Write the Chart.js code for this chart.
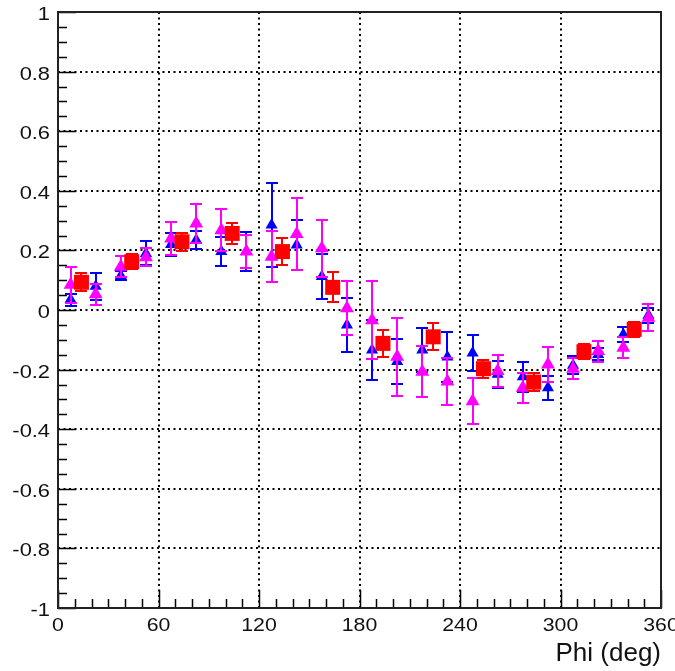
<!DOCTYPE html>
<html><head><meta charset="utf-8">
<script src="https://cdn.jsdelivr.net/npm/chart.js@4"></script>
<style>html,body{margin:0;padding:0;background:#fff}</style>
</head><body>
<canvas id="c" width="675" height="671" style="display:block;width:675px;height:671px"></canvas>
<script>
// ---- data ----
const phiFine = [7.5,22.5,37.5,52.5,67.5,82.5,97.5,112.5,127.5,142.5,157.5,172.5,187.5,202.5,217.5,232.5,247.5,262.5,277.5,292.5,307.5,322.5,337.5,352.5];
const blueVals = [0.035,0.08,0.115,0.19,0.22,0.235,0.196,0.196,0.285,0.218,0.112,-0.05,-0.134,-0.173,-0.134,-0.158,-0.144,-0.216,-0.224,-0.261,-0.185,-0.149,-0.082,-0.018];
const blueErr  = [0.02,0.045,0.015,0.04,0.04,0.03,0.05,0.065,0.14,0.085,0.075,0.09,0.1,0.075,0.075,0.085,0.06,0.045,0.05,0.04,0.03,0.02,0.025,0.025];
const magVals  = [0.085,0.053,0.145,0.177,0.24,0.29,0.268,0.196,0.179,0.255,0.207,0.006,-0.034,-0.157,-0.207,-0.24,-0.306,-0.205,-0.261,-0.183,-0.197,-0.138,-0.127,-0.026];
const magErr   = [0.06,0.035,0.035,0.03,0.055,0.065,0.07,0.055,0.085,0.12,0.095,0.09,0.13,0.13,0.085,0.08,0.078,0.053,0.05,0.06,0.035,0.035,0.035,0.045];
const phiCoarse = [14,44,74,104,134,164,194,224,254,284,314,344];
const redVals  = [0.093,0.162,0.229,0.257,0.196,0.076,-0.112,-0.09,-0.197,-0.242,-0.14,-0.065];
const redErr   = [0.03,0.025,0.03,0.035,0.045,0.05,0.045,0.045,0.03,0.03,0.025,0.025];
const xTicks = [0,60,120,180,240,300,360];
const yTicks = [-1,-0.8,-0.6,-0.4,-0.2,0,0.2,0.4,0.6,0.8,1];
const xTickLabels = ['0','60','120','180','240','300','360'];
const yTickLabels = ['-1','-0.8','-0.6','-0.4','-0.2','0','0.2','0.4','0.6','0.8','1'];
const xTitle = 'Phi (deg)';

const pts = (xs, ys) => xs.map((x,i)=>({x:x, y:ys[i]}));

const errorBars = {
  id:'errorBars',
  beforeDatasetDraw(chart, args) {
    const ds = chart.data.datasets[args.index];
    if (!ds.errors) return;
    const xs = chart.scales.x, ys = chart.scales.y, ctx = chart.ctx, a = chart.chartArea;
    ctx.save();
    ctx.beginPath(); ctx.rect(a.left, a.top, a.right-a.left, a.bottom-a.top); ctx.clip();
    ctx.strokeStyle = ds.errorColor; ctx.lineWidth = 2;
    const cap = ds.capHalf;
    ds.data.forEach((p,i)=>{
      const e = ds.errors[i];
      const px = Math.round(xs.getPixelForValue(p.x));
      const y1 = Math.round(ys.getPixelForValue(p.y + e)), y2 = Math.round(ys.getPixelForValue(p.y - e));
      ctx.beginPath();
      ctx.moveTo(px, y1); ctx.lineTo(px, y2);
      ctx.moveTo(px-cap, y1); ctx.lineTo(px+cap, y1);
      ctx.moveTo(px-cap, y2); ctx.lineTo(px+cap, y2);
      ctx.stroke();
    });
    ctx.restore();
  }
};

const frame = {
  id:'frame',
  beforeDatasetsDraw(chart) {
    const {ctx, chartArea:a, scales:{x, y}} = chart;
    ctx.save();
    ctx.strokeStyle = '#000'; ctx.lineWidth = 2; ctx.setLineDash([2,3.5]);
    xTicks.slice(1,-1).forEach(v=>{
      const px = Math.round(x.getPixelForValue(v));
      ctx.beginPath(); ctx.moveTo(px, a.top); ctx.lineTo(px, a.bottom); ctx.stroke();
    });
    yTicks.slice(1,-1).forEach(v=>{
      const py = Math.round(y.getPixelForValue(v));
      ctx.beginPath(); ctx.moveTo(a.left, py); ctx.lineTo(a.right, py); ctx.stroke();
    });
    ctx.setLineDash([]);
    ctx.lineWidth = 1.5;
    for (let i=0;i<=36;i++){
      const px = Math.round(x.getPixelForValue(i*10))+0.5;
      const len = (i%6===0)?18:9;
      ctx.beginPath(); ctx.moveTo(px, a.bottom); ctx.lineTo(px, a.bottom-len); ctx.stroke();
    }
    for (let i=0;i<=40;i++){
      const py = Math.round(y.getPixelForValue(-1+i*0.05))+0.5;
      const len = (i%4===0)?18:9;
      ctx.beginPath(); ctx.moveTo(a.left, py); ctx.lineTo(a.left+len, py); ctx.stroke();
    }
    ctx.restore();
  },
  afterDraw(chart){
    const {ctx, chartArea:a, scales:{x, y}} = chart;
    ctx.save();
    ctx.strokeStyle='#222'; ctx.lineWidth=2;
    ctx.strokeRect(Math.round(a.left), Math.round(a.top), Math.round(a.right-a.left), Math.round(a.bottom-a.top));
    // tick labels (slightly widened like the reference)
    ctx.fillStyle = '#111';
    ctx.font = '19px "Liberation Sans"';
    ctx.textBaseline = 'alphabetic';
    ctx.textAlign = 'center';
    xTicks.forEach((v,i)=>{
      ctx.save();
      ctx.translate(x.getPixelForValue(v), a.bottom + 23);
      ctx.scale(1.12, 1);
      ctx.fillText(xTickLabels[i], 0, 0);
      ctx.restore();
    });
    ctx.textAlign = 'right';
    yTicks.forEach((v,i)=>{
      ctx.save();
      ctx.translate(a.left - 8, y.getPixelForValue(v) + 8);
      ctx.scale(1.15, 1);
      ctx.fillText(yTickLabels[i], 0, 0);
      ctx.restore();
    });
    ctx.restore();
  }
};

new Chart(document.getElementById('c'), {
  type:'scatter',
  data:{datasets:[
    {label:'red', data:pts(phiCoarse, redVals), errors:redErr, errorColor:'#ff0000', capHalf:6,
     pointStyle:'rect', pointRadius:10.6, backgroundColor:'#ff0000', borderColor:'#ff0000', borderWidth:0},
    {label:'magenta', data:pts(phiFine, magVals), errors:magErr, errorColor:'#ff00ff', capHalf:6,
     pointStyle:'triangle', pointRadius:8, backgroundColor:'#ff00ff', borderColor:'#ff00ff', borderWidth:0},
    {label:'blue', data:pts(phiFine, blueVals), errors:blueErr, errorColor:'#0000ff', capHalf:6,
     pointStyle:'triangle', pointRadius:7, backgroundColor:'#0000ff', borderColor:'#0000ff', borderWidth:0}
  ]},
  options:{
    responsive:false, animation:false, devicePixelRatio:1,
    layout:{padding:{top:12, right:14, left:0, bottom:0}},
    plugins:{legend:{display:false}, tooltip:{enabled:false}},
    scales:{
      x:{type:'linear', min:0, max:360,
        afterBuildTicks:s=>{ s.ticks = xTicks.map(v=>({value:v})); },
        grid:{display:false, drawTicks:false}, border:{display:false},
        ticks:{display:false},
        title:{display:true, text:xTitle, align:'end', color:'#111', font:{family:'Liberation Sans', size:26}, padding:{top:0,bottom:2}},
        afterFit:s=>{ s.height=63; s.paddingLeft=0; s.paddingRight=0; }
      },
      y:{type:'linear', min:-1, max:1,
        afterBuildTicks:s=>{ s.ticks = yTicks.map(v=>({value:v})); },
        grid:{display:false, drawTicks:false}, border:{display:false},
        ticks:{display:false},
        afterFit:s=>{ s.width=58; s.paddingTop=0; s.paddingBottom=0; }
      }
    }
  },
  plugins:[errorBars, frame]
});
</script>
</body></html>
